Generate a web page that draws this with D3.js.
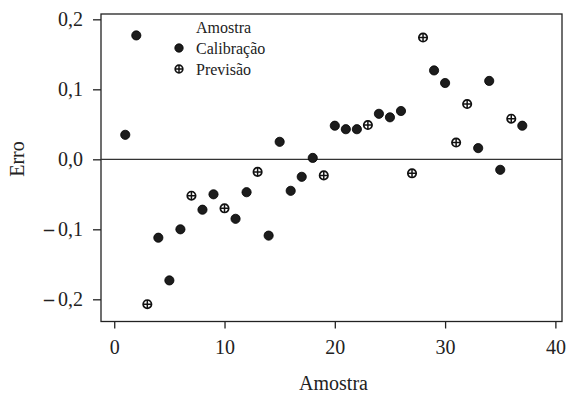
<!DOCTYPE html>
<html>
<head>
<meta charset="utf-8">
<script src="https://cdn.jsdelivr.net/npm/d3@7"></script>
<style>
  body { margin: 0; background: #fff; }
  text { font-family: "Liberation Serif", "DejaVu Serif", serif; fill: #222; }
</style>
</head>
<body>
<div id="chart"></div>
<script>
(function () {

    var width = 568, height = 394

    // amostra (sample number), erro, and which set it belongs to
    var amostras = [1, 2, 3, 4, 5, 6, 7, 8, 9, 10, 11, 12, 13, 14, 15, 16, 17, 18, 19,
        20, 21, 22, 23, 24, 25, 26, 27, 28, 29, 30, 31, 32, 33, 34, 35, 36, 37]
    var erros = [0.035, 0.177, -0.207, -0.112, -0.173, -0.100, -0.052, -0.072, -0.050, -0.070,
        -0.085, -0.047, -0.018, -0.109, 0.025, -0.045, -0.025, 0.002, -0.023,
        0.048, 0.043, 0.043, 0.049, 0.065, 0.060, 0.069, -0.020, 0.174, 0.127,
        0.109, 0.024, 0.079, 0.016, 0.112, -0.015, 0.058, 0.048]
    var grupos = ['C', 'C', 'P', 'C', 'C', 'C', 'P', 'C', 'C', 'P', 'C', 'C', 'P', 'C', 'C', 'C', 'C', 'C', 'P',
        'C', 'C', 'C', 'P', 'C', 'C', 'C', 'P', 'P', 'C', 'C', 'P', 'P', 'C', 'C', 'C', 'P', 'C']

    var xTicks = [0, 10, 20, 30, 40]
    var yTicks = [-0.2, -0.1, 0.0, 0.1, 0.2]
    var legendItems = [{ key: 'C', label: 'Calibração' }, { key: 'P', label: 'Previsão' }]

    var data = amostras.map(function (a, i) {
        return { x: a, y: erros[i], g: grupos[i] }
    })

    var left = 101, right = 562, top = 14, bottom = 321.5

    var svg = d3.select('#chart')
        .append('svg')
        .attr('width', width)
        .attr('height', height)

    var x = d3.scaleLinear().domain([-1.2, 40.6]).range([left, right])
    var y = d3.scaleLinear().domain([-0.2317, 0.2076]).range([bottom, top])

    // x axis
    var gx = svg.append('g')
        .attr('transform', 'translate(0,' + bottom + ')')
        .call(d3.axisBottom(x).tickValues(xTicks).tickSize(7).tickPadding(11).tickSizeOuter(0))
    gx.select('.domain').remove()
    gx.selectAll('line').attr('stroke', '#222').attr('stroke-width', 1.3)
    gx.selectAll('text').style('font-size', '20px').attr('fill', '#222')

    // y axis, comma decimals and a heavy dash for negatives
    var gy = svg.append('g')
        .attr('transform', 'translate(' + left + ',0)')
        .call(d3.axisLeft(y).tickValues(yTicks).tickFormat('').tickSize(8).tickPadding(10).tickSizeOuter(0))
    gy.select('.domain').remove()
    gy.selectAll('line').attr('stroke', '#222').attr('stroke-width', 1.3)
    gy.selectAll('.tick text')
        .style('font-size', '20px')
        .attr('fill', '#222')
        .each(function (d) {
            var t = d3.select(this)
            if (d < 0) {
                t.append('tspan').style('font-weight', 'bold').text('\u2013')
                t.append('tspan').text('\u2009')
            }
            t.append('tspan').text(Math.abs(d).toFixed(1).replace('.', ','))
        })

    // frame
    svg.append('rect')
        .attr('x', left)
        .attr('y', top)
        .attr('width', right - left)
        .attr('height', bottom - top)
        .attr('fill', 'none')
        .attr('stroke', '#222')
        .attr('stroke-width', 1.3)

    // zero line
    svg.append('line')
        .attr('x1', left).attr('x2', right)
        .attr('y1', y(0)).attr('y2', y(0))
        .attr('stroke', '#333')
        .attr('stroke-width', 1.3)

    function drawMarker(r) {
        return function (sel) {
            sel.each(function (d) {
                var g = d3.select(this)
                if (d.g === 'C') {
                    g.append('circle').attr('r', r).attr('fill', '#1c1c1c').attr('stroke', '#000').attr('stroke-width', 0.8)
                } else {
                    g.append('circle').attr('r', r - 0.4).attr('fill', '#fff').attr('stroke', '#111').attr('stroke-width', 1.7)
                    g.append('path')
                        .attr('d', 'M' + (-r + 0.4) + ',0H' + (r - 0.4) + 'M0,' + (-r + 0.4) + 'V' + (r - 0.4))
                        .attr('stroke', '#111').attr('stroke-width', 1.5)
                }
            })
        }
    }

    svg.selectAll('.ponto')
        .data(data)
        .enter().append('g')
        .attr('class', 'ponto')
        .attr('transform', function (d) { return 'translate(' + x(d.x) + ',' + y(d.y) + ')' })
        .call(drawMarker(4.6))

    // legend
    var legend = svg.append('g').attr('transform', 'translate(179,0)')
    legend.append('text')
        .attr('x', 17).attr('y', 33)
        .style('font-size', '16px')
        .text('Amostra')
    legend.selectAll('.item')
        .data(legendItems.map(function (d) { return { g: d.key, label: d.label } }))
        .enter().append('g')
        .attr('class', 'item')
        .attr('transform', function (d, i) { return 'translate(0,' + (48 + i * 21) + ')' })
        .call(drawMarker(4.2))
        .append('text')
        .attr('x', 17).attr('dy', '0.35em')
        .style('font-size', '16px')
        .text(function (d) { return d.label })

    // axis titles
    svg.append('text')
        .attr('x', (left + right) / 2 + 2)
        .attr('y', 390)
        .attr('text-anchor', 'middle')
        .style('font-size', '20px')
        .text('Amostra')

    svg.append('text')
        .attr('transform', 'translate(24,' + 159 + ') rotate(-90)')
        .attr('text-anchor', 'middle')
        .style('font-size', '20px')
        .text('Erro')

})()
</script>
</body>
</html>
